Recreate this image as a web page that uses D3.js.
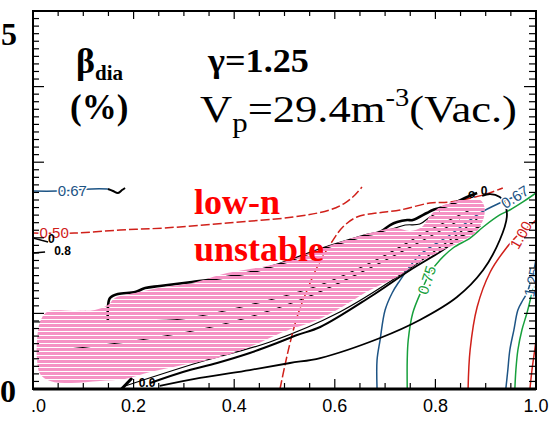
<!DOCTYPE html>
<html>
<head>
<meta charset="utf-8">
<script src="https://cdn.jsdelivr.net/npm/d3@7"></script>
<style>
  body { margin: 0; background: #fff; }
  svg { display: block; }
</style>
</head>
<body>
<svg></svg>
<script>
// contour lines, [x, beta_dia(%)]
var red050 = [[0,2.063],[0.082,2.063],[0.173,2.103],[0.262,2.130],[0.386,2.196],[0.517,2.275],[0.590,2.368],[0.620,2.460],[0.640,2.566],[0.654,2.672]];
var red050b = [[0.491,0],[0.501,0.317],[0.511,0.608],[0.525,0.952],[0.541,1.243],[0.567,1.640],[0.594,1.944],[0.616,2.143],[0.644,2.275],[0.684,2.328],[0.730,2.368],[0.789,2.460],[0.829,2.474],[0.895,2.566],[0.934,2.659]];
var red100 = [[0.865,0],[0.869,0.516],[0.883,1.085],[0.909,1.548],[0.938,1.839],[0.964,2.037],[0.994,2.196],[1.0,2.235]];
var red125 = [[0.988,0],[0.992,0.251],[0.998,0.542],[1.0,0.65]];

var blue067a = [[0,2.619],[0.048,2.619],[0.117,2.646],[0.149,2.646]];
var blue067b = [[0.684,0],[0.684,0.384],[0.690,0.648],[0.700,1.045],[0.714,1.270],[0.726,1.402],[0.769,1.772],[0.829,2.037],[0.889,2.328],[0.928,2.460],[0.978,2.600]];
var blue125 = [[0.940,0],[0.944,0.251],[0.948,0.516],[0.956,0.780],[0.964,1.045],[0.974,1.177],[0.982,1.270],[0.992,1.481],[0.998,1.640],[1.0,1.733]];

var green075 = [[0.744,0],[0.744,0.384],[0.746,0.648],[0.755,1.005],[0.773,1.310],[0.789,1.534],[0.809,1.706],[0.835,1.865],[0.869,1.997],[0.895,2.143],[0.928,2.302],[0.948,2.368],[0.974,2.474],[1.0,2.593]];
var green100 = [[0.958,0],[0.960,0.251],[0.964,0.516],[0.972,0.780],[0.982,1.005],[0.994,1.310],[1.0,1.402]];

var blackOuter = [[0.252,0.040],[0.332,0.146],[0.431,0.251],[0.511,0.344],[0.571,0.410],[0.690,0.675],[0.769,0.913],[0.843,1.217],[0.895,1.574],[0.928,1.971],[0.942,2.275],[0.938,2.460],[0.928,2.540],[0.909,2.579],[0.893,2.553]];
var blackInner = [[0.233,0.079],[0.298,0.225],[0.366,0.344],[0.431,0.476],[0.485,0.608],[0.525,0.714],[0.571,0.820],[0.670,1.217],[0.750,1.574],[0.815,1.839],[0.849,2.011],[0.875,2.103],[0.889,2.156]];
var blackUpper = [[0.149,0.886],[0.149,1.085],[0.153,1.204],[0.169,1.257],[0.203,1.283],[0.223,1.336],[0.252,1.362],[0.316,1.415],[0.362,1.455],[0.431,1.540],[0.491,1.655],[0.551,1.800],[0.596,1.900],[0.630,1.971],[0.664,2.037],[0.690,2.077],[0.710,2.169],[0.724,2.209],[0.744,2.235],[0.755,2.235],[0.783,2.328],[0.795,2.368],[0.829,2.434],[0.863,2.540],[0.883,2.593]];
var blackUpper2 = [[0.690,2.077],[0.720,2.130],[0.740,2.169],[0.769,2.182],[0.789,2.275],[0.809,2.341]];
var blackSquiggle = [[0.149,2.646],[0.159,2.619],[0.169,2.593],[0.177,2.632],[0.183,2.659]];
var blackLeft1 = [[0,1.997],[0.030,1.944]];
var blackLeft2 = [[0,1.799],[0.024,1.812]];
var blackBottom = [[0.176,0],[0.197,0.146]];
// contours under the hatched area
var hidden1 = [[0,0.886],[0.093,0.886],[0.193,0.899],[0.296,0.926],[0.431,1.111],[0.571,1.376],[0.690,1.733],[0.789,2.103],[0.869,2.368]];
var hidden2 = [[0.183,0.040],[0.332,0.357],[0.471,0.622],[0.610,1.019],[0.730,1.508],[0.829,1.971],[0.885,2.262]];
var hidden3 = [[0.054,0.516],[0.213,0.648],[0.372,0.847],[0.531,1.177],[0.670,1.601],[0.769,1.944],[0.849,2.235]];

// low-n unstable region
var unstable = [[0.028,1.019],[0.083,1.032],[0.123,1.045],[0.149,1.111],[0.163,1.204],[0.203,1.270],[0.249,1.336],[0.316,1.402],[0.386,1.534],[0.491,1.667],[0.610,1.944],[0.670,2.063],[0.720,2.130],[0.750,2.090],[0.773,2.143],[0.789,2.288],[0.809,2.407],[0.839,2.487],[0.869,2.513],[0.889,2.500],[0.897,2.421],[0.897,2.288],[0.889,2.156],[0.877,2.050],[0.849,1.944],[0.803,1.799],[0.759,1.640],[0.724,1.481],[0.670,1.310],[0.604,1.045],[0.565,0.913],[0.497,0.754],[0.431,0.556],[0.366,0.410],[0.298,0.317],[0.233,0.225],[0.183,0.132],[0.133,0.106],[0.074,0.079],[0.034,0.106],[0.014,0.198],[0.008,0.384],[0.008,0.648],[0.014,0.886]];

// contour labels: text, x, beta, angle
var labelText = ["0.50","0.67","0.67","0.75","1.00","1.25"];
var labelX = [0.042,0.078,0.958,0.783,0.970,0.992];
var labelY = [2.063,2.619,2.540,1.442,2.037,1.415];
var labelAngle = [0,0,-32,-72,-60,-78];
var labelKind = ["red","blue","blue","green","red","blue"];

// small black labels
var smallText = ["0.8","0","0.0","0","o"];
var smallX = [0.042,0.030,0.210,0.890,0.865];
var smallY = [1.77,1.93,0.02,2.56,2.52];

var xTicks = [0.2,0.4,0.6,0.8,1.0];
var xTickLabels = ["0.2","0.4","0.6","0.8","1.0"];

// stretch a text element horizontally so it spans the given width
var fitWidth = function(sel,x0,y0,w)
{
  var bw = sel.node().getBBox().width;
  sel.attr('x',0).attr('y',0)
     .attr('transform','translate('+x0+','+y0+') scale('+(w/bw)+',1)');
}

var drawChart = function()
{
  var screen = { width: 557, height: 423 };
  var svg = d3.select('svg')
              .attr('width',screen.width)
              .attr('height',screen.height);

  var x = d3.scaleLinear().domain([0,1]).range([33,536]);
  var y = d3.scaleLinear().domain([0,5]).range([389,11]);

  var colors = { red: '#d0201a', blue: '#1d5485', green: '#17a03c', black: '#000' };

  var defs = svg.append('defs');
  defs.append('clipPath').attr('id','plotclip')
      .append('rect')
      .attr('x',x(0)).attr('y',y(5))
      .attr('width',x(1)-x(0)).attr('height',y(0)-y(5));
  var pat = defs.append('pattern')
      .attr('id','hatch')
      .attr('patternUnits','userSpaceOnUse')
      .attr('width',10).attr('height',4);
  pat.append('rect').attr('width',10).attr('height',3).attr('fill','#f592c4');

  var line = d3.line()
      .x(function(d){ return x(d[0]); })
      .y(function(d){ return y(d[1]); })
      .curve(d3.curveCatmullRom.alpha(0.5));

  var plot = svg.append('g').attr('clip-path','url(#plotclip)');

  var contours = [
    { d: hidden1, c: 'black', w: 1.2 },
    { d: hidden2, c: 'black', w: 1.2 },
    { d: hidden3, c: 'black', w: 1.2 },
    { d: red050, c: 'red', w: 1.5, dash: '9,3' },
    { d: red050b, c: 'red', w: 1.5, dash: '9,3' },
    { d: red100, c: 'red', w: 1.5 },
    { d: red125, c: 'red', w: 1.5 },
    { d: blue067a, c: 'blue', w: 1.5 },
    { d: blue067b, c: 'blue', w: 1.5 },
    { d: blue125, c: 'blue', w: 1.5 },
    { d: green075, c: 'green', w: 1.5 },
    { d: green100, c: 'green', w: 1.5 },
    { d: blackOuter, c: 'black', w: 1.8 },
    { d: blackInner, c: 'black', w: 2 },
    { d: blackUpper, c: 'black', w: 2.6 },
    { d: blackUpper2, c: 'black', w: 1.2 },
    { d: blackSquiggle, c: 'black', w: 2 },
    { d: blackLeft1, c: 'black', w: 1.5 },
    { d: blackLeft2, c: 'black', w: 1.5 },
    { d: blackBottom, c: 'black', w: 3 }
  ];

  plot.selectAll('path.contour')
      .data(contours)
      .enter()
      .append('path')
      .classed('contour',true)
      .attr('d',function(d){ return line(d.d); })
      .attr('fill','none')
      .attr('stroke',function(d){ return colors[d.c]; })
      .attr('stroke-width',function(d){ return d.w; })
      .attr('stroke-dasharray',function(d){ return d.dash || null; });

  // hatched region on top
  plot.append('path')
      .attr('d',d3.line()
          .x(function(d){ return x(d[0]); })
          .y(function(d){ return y(d[1]); })
          .curve(d3.curveCatmullRomClosed.alpha(0.5))(unstable))
      .attr('fill','url(#hatch)');

  // contour labels
  plot.selectAll('text.clabel')
      .data(labelText)
      .enter()
      .append('text')
      .classed('clabel',true)
      .attr('transform',function(d,i){
        return 'translate('+x(labelX[i])+','+y(labelY[i])+') rotate('+labelAngle[i]+')';
      })
      .attr('text-anchor','middle')
      .attr('dy','0.35em')
      .attr('font-family','Liberation Sans, Arial, sans-serif')
      .attr('font-size',15)
      .attr('fill',function(d,i){ return colors[labelKind[i]]; })
      .attr('stroke','#fff')
      .attr('stroke-width',3)
      .attr('paint-order','stroke')
      .text(function(d){ return d; });

  plot.selectAll('text.slabel')
      .data(smallText)
      .enter()
      .append('text')
      .classed('slabel',true)
      .attr('x',function(d,i){ return x(smallX[i]); })
      .attr('y',function(d,i){ return y(smallY[i]); })
      .attr('font-family','Liberation Sans, Arial, sans-serif')
      .attr('font-size',12)
      .attr('font-weight','bold')
      .attr('fill','#000')
      .text(function(d){ return d; });

  // ticks: inward on all four sides
  var xMinor = d3.range(0,1.0001,0.05);
  var yMinor = d3.range(0,5.0001,0.1);
  var axes = svg.append('g').attr('stroke','#000');

  axes.selectAll('line.bt').data(xMinor).enter().append('line')
      .attr('x1',function(d){ return x(d); }).attr('x2',function(d){ return x(d); })
      .attr('y1',y(0)).attr('y2',function(d,i){ return y(0)-(i%4==0 ? 10 : 6); })
      .attr('stroke-width',1.2);
  axes.selectAll('line.tp').data(xMinor).enter().append('line')
      .attr('x1',function(d){ return x(d); }).attr('x2',function(d){ return x(d); })
      .attr('y1',y(5)).attr('y2',function(d,i){ return y(5)+(i%4==0 ? 8 : 5); })
      .attr('stroke-width',1.2);
  axes.selectAll('line.lf').data(yMinor).enter().append('line')
      .attr('y1',function(d){ return y(d); }).attr('y2',function(d){ return y(d); })
      .attr('x1',x(0)).attr('x2',function(d,i){ return x(0)+(i%10==0 ? 11 : 6); })
      .attr('stroke-width',1.2);
  axes.selectAll('line.rt').data(yMinor).enter().append('line')
      .attr('y1',function(d){ return y(d); }).attr('y2',function(d){ return y(d); })
      .attr('x1',x(1)).attr('x2',function(d,i){ return x(1)-(i%10==0 ? 12 : 7); })
      .attr('stroke-width',1.2);

  // frame
  svg.append('rect')
      .attr('x',x(0)).attr('y',y(5))
      .attr('width',x(1)-x(0)).attr('height',y(0)-y(5))
      .attr('fill','none').attr('stroke','#000').attr('stroke-width',2);
  svg.append('line')
      .attr('x1',x(0)).attr('x2',x(1)).attr('y1',y(0)).attr('y2',y(0))
      .attr('stroke','#000').attr('stroke-width',3);

  // x tick labels
  svg.selectAll('text.xt')
      .data(xTicks)
      .enter()
      .append('text')
      .classed('xt',true)
      .attr('x',function(d){ return x(d); })
      .attr('y',412)
      .attr('text-anchor','middle')
      .attr('font-family','Liberation Sans, Arial, sans-serif')
      .attr('font-size',18)
      .text(function(d,i){ return xTickLabels[i]; });
  svg.append('text')
      .attr('x',x(0)-2).attr('y',412)
      .attr('font-family','Liberation Sans, Arial, sans-serif')
      .attr('font-size',18)
      .text('.0');

  var serif = 'Liberation Serif, Times New Roman, serif';
  // y end labels
  svg.append('text').attr('x',1).attr('y',45)
      .attr('font-family',serif).attr('font-size',32).attr('font-weight','bold')
      .text('5');
  svg.append('text').attr('x',0).attr('y',402)
      .attr('font-family',serif).attr('font-size',32).attr('font-weight','bold')
      .text('0');

  // beta_dia (%)
  var beta = svg.append('text').attr('x',76).attr('y',73)
      .attr('font-family',serif).attr('font-weight','bold').attr('font-size',36);
  beta.append('tspan').text('\u03B2');
  beta.append('tspan').attr('font-size',21).attr('dy',7).text('dia');
  svg.append('text').attr('x',70).attr('y',119)
      .attr('font-family',serif).attr('font-weight','bold').attr('font-size',35)
      .text('(%)');

  var gam = svg.append('text')
      .attr('font-family',serif).attr('font-weight','bold').attr('font-size',34)
      .text('\u03B3=1.25');
  fitWidth(gam,208,72,102);

  var vp = svg.append('text')
      .attr('font-family',serif).attr('font-size',39);
  vp.append('tspan').text('V');
  vp.append('tspan').attr('font-size',27).attr('dy',10).text('p');
  vp.append('tspan').attr('dy',-10).text('=29.4m');
  vp.append('tspan').attr('font-size',25).attr('dy',-16).text('-3');
  vp.append('tspan').attr('dy',16).text('(Vac.)');
  fitWidth(vp,200,122,317);

  // region label
  svg.append('text').attr('x',194).attr('y',214)
      .attr('font-family',serif).attr('font-weight','bold').attr('font-size',36)
      .attr('fill','#ff0000').text('low-n');
  svg.append('text').attr('x',194).attr('y',261)
      .attr('font-family',serif).attr('font-weight','bold').attr('font-size',36)
      .attr('fill','#ff0000').text('unstable');
}

drawChart();
</script>
</body>
</html>
